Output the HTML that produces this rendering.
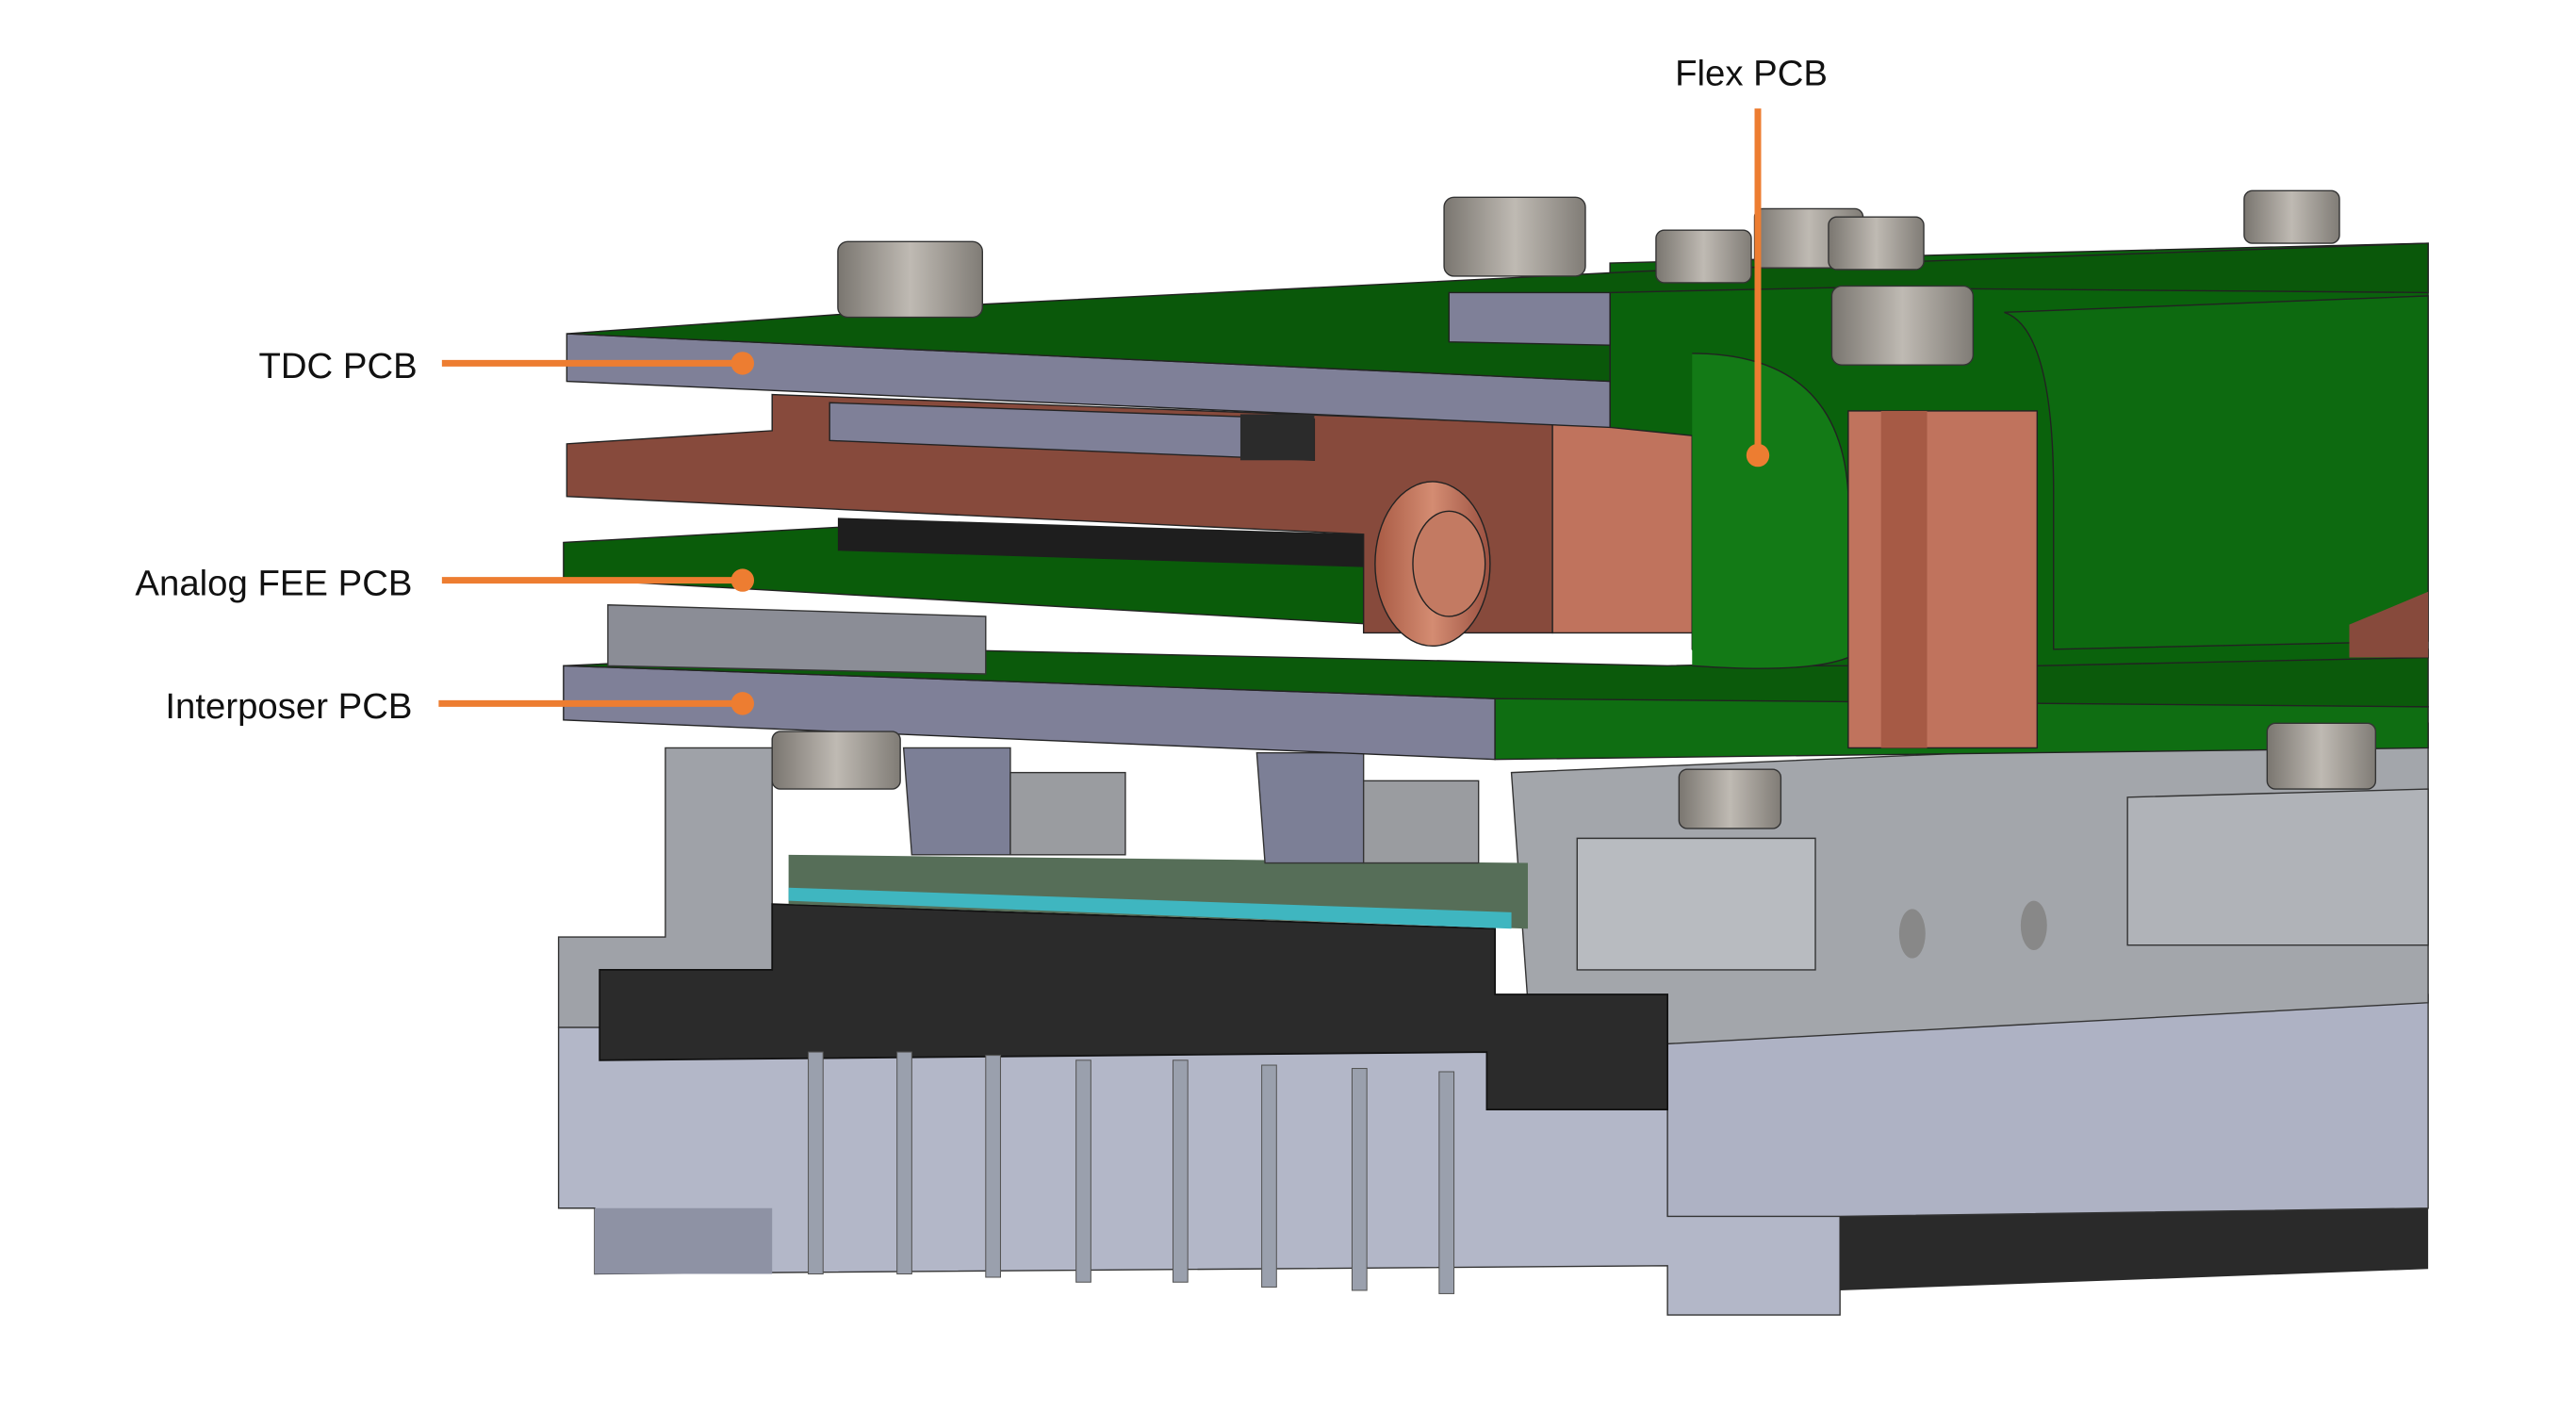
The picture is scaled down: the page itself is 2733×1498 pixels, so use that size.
<!DOCTYPE html>
<html><head><meta charset="utf-8"><style>
html,body{margin:0;padding:0;background:#fff;}
svg{display:block;}
text{font-family:"Liberation Sans",sans-serif;font-size:22px;fill:#111;}
</style></head><body>
<svg width="2733" height="1498" viewBox="0 0 1568 859" preserveAspectRatio="none">
<defs>
<linearGradient id="screw" x1="0" x2="1"><stop offset="0" stop-color="#7a7670"/><stop offset="0.5" stop-color="#bfbab3"/><stop offset="1" stop-color="#807c76"/></linearGradient>
<linearGradient id="cu" x1="0" x2="1"><stop offset="0" stop-color="#a85a44"/><stop offset="0.5" stop-color="#d48c72"/><stop offset="1" stop-color="#9a5040"/></linearGradient>
</defs>
<g>
<polygon points="340,625 1120,625 1120,800 1015,800 1015,770 362,775 362,735 340,735" fill="#b3b7c8" stroke="#333" stroke-width="0.8"/>
<polygon points="362,735 470,735 470,775 362,775" fill="#8e92a4"/>
<polygon points="1120,735 1478,735 1478,772 1120,785" fill="#2a2a2a"/>
<polygon points="1015,625 1478,605 1478,735 1120,740 1015,740" fill="#aeb2c4" stroke="#333" stroke-width="0.8"/>
<polygon points="405,455 470,455 470,625 340,625 340,570 405,570" fill="#9fa2a8" stroke="#333" stroke-width="0.8"/>
<polygon points="920,470 1270,455 1478,440 1478,610 1015,635 930,610" fill="#a3a6ab" stroke="#333" stroke-width="0.8"/>
<polygon points="960,510 1105,510 1105,590 960,590" fill="#b8bbc0" stroke="#333" stroke-width="0.8"/>
<polygon points="1295,485 1478,480 1478,575 1295,575" fill="#b0b3b8" stroke="#333" stroke-width="0.8"/>
<ellipse cx="1164" cy="568" rx="8" ry="15" fill="#888"/>
<ellipse cx="1238" cy="563" rx="8" ry="15" fill="#888"/>
</g>
<g>
<polygon points="365,590 470,590 470,550 910,565 910,605 1015,605 1015,675 905,675 905,640 365,645" fill="#2b2b2b" stroke="#111"/>
<polygon points="480,520 930,525 930,565 480,550" fill="#566e58"/>
<polygon points="480,540 920,555 920,565 480,548" fill="#3fb6c0"/>
</g>
<g fill="#9aa0ad" stroke="#555" stroke-width="0.6">
<rect x="492" y="640" width="9" height="135"/><rect x="546" y="640" width="9" height="135"/>
<rect x="600" y="642" width="9" height="135"/><rect x="655" y="645" width="9" height="135"/>
<rect x="714" y="645" width="9" height="135"/><rect x="768" y="648" width="9" height="135"/>
<rect x="823" y="650" width="9" height="135"/><rect x="876" y="652" width="9" height="135"/>
</g>
<g fill="#7c7f96" stroke="#333" stroke-width="0.8">
<polygon points="550,455 615,455 615,520 555,520"/><polygon points="765,458 830,458 830,525 770,525"/>
<rect x="615" y="470" width="70" height="50" fill="#9a9ca0"/><rect x="830" y="475" width="70" height="50" fill="#9a9ca0"/>
</g>
<g>
<polygon points="343,405 910,425 910,462 343,438" fill="#7f8098" stroke="#222" stroke-width="0.8"/>
<polygon points="343,405 560,395 1015,405 1478,395 1478,430 1270,440 1015,430 910,425" fill="#0b5a0b" stroke="#222" stroke-width="0.8"/>
<polygon points="910,425 1478,430 1478,455 910,462" fill="#0f6e12" stroke="#222" stroke-width="0.8"/>
<polygon points="370,368 600,375 600,410 370,405" fill="#8b8d96" stroke="#333" stroke-width="0.8"/>
</g>
<g>
<polygon points="343,330 560,318 840,330 840,380 343,352" fill="#0a5c0a" stroke="#222" stroke-width="0.8"/>
<polygon points="510,315 830,325 830,345 510,335" fill="#1e1e1e"/>
</g>
<g>
<polygon points="470,240 945,258 945,385 830,385 830,325 345,302 345,270 470,262" fill="#874a3c" stroke="#222" stroke-width="0.8"/>
<polygon points="945,255 1030,255 1030,385 945,385" fill="#c0735d" stroke="#222" stroke-width="0.8"/>
<polygon points="505,245 800,255 800,280 505,268" fill="#7f8098" stroke="#222" stroke-width="0.8"/>
<rect x="755" y="252" width="45" height="28" fill="#2b2b2b"/>
<ellipse cx="872" cy="343" rx="35" ry="50" fill="url(#cu)" stroke="#222" stroke-width="0.8"/>
<ellipse cx="882" cy="343" rx="22" ry="32" fill="#c37a62" stroke="#222" stroke-width="0.8"/>
</g>
<g>
<polygon points="980,160 1478,148 1478,400 1240,405 1130,405 1040,405 1030,395 1030,265 980,260" fill="#0a620c" stroke="#222" stroke-width="0.8"/>
<path d="M1030,215 Q1120,215 1125,300 L1125,400 Q1100,410 1030,405" fill="#137a16" stroke="#222" stroke-width="0.8"/>
<polygon points="1125,250 1240,250 1240,455 1125,455" fill="#c0735d" stroke="#222" stroke-width="0.8"/>
<rect x="1145" y="250" width="28" height="205" fill="#a65a45"/>
<path d="M1220,190 Q1250,200 1250,300 L1250,395 L1478,390 L1478,180 Z" fill="#0d6a10" stroke="#222" stroke-width="0.8"/>
<polygon points="1430,380 1478,360 1478,400 1430,400" fill="#874a3c"/>
</g>
<g>
<polygon points="345,203 980,232 980,260 345,232" fill="#7f8098" stroke="#222" stroke-width="0.8"/>
<polygon points="345,203 600,185 1000,165 1478,148 1478,178 1115,175 980,178 980,232" fill="#0a580a" stroke="#222" stroke-width="0.8"/>
<polygon points="882,178 980,178 980,210 882,208" fill="#7f8098" stroke="#222" stroke-width="0.8"/>
</g>
<g stroke="#333" stroke-width="0.8" fill="url(#screw)">
<rect x="510" y="147" width="88" height="46" rx="6"/>
<rect x="879" y="120" width="86" height="48" rx="6"/>
<rect x="1008" y="140" width="58" height="32" rx="5"/>
<rect x="1068" y="127" width="66" height="36" rx="5"/>
<rect x="1113" y="132" width="58" height="32" rx="5"/>
<rect x="1115" y="174" width="86" height="48" rx="6"/>
<rect x="1366" y="116" width="58" height="32" rx="5"/>
<rect x="470" y="445" width="78" height="35" rx="5"/>
<rect x="1380" y="440" width="66" height="40" rx="5"/>
<rect x="1022" y="468" width="62" height="36" rx="5"/>
</g>
<g>
<text x="1066" y="52" text-anchor="middle">Flex PCB</text>
<line x1="1070" y1="66" x2="1070" y2="277" stroke="#ed7d31" stroke-width="4"/>
<circle cx="1070" cy="277" r="7" fill="#ed7d31"/>
<text x="254" y="230" text-anchor="end">TDC PCB</text>
<line x1="269" y1="221" x2="452" y2="221" stroke="#ed7d31" stroke-width="4"/>
<circle cx="452" cy="221" r="7" fill="#ed7d31"/>
<text x="251" y="362" text-anchor="end">Analog FEE PCB</text>
<line x1="269" y1="353" x2="452" y2="353" stroke="#ed7d31" stroke-width="4"/>
<circle cx="452" cy="353" r="7" fill="#ed7d31"/>
<text x="251" y="437" text-anchor="end">Interposer PCB</text>
<line x1="267" y1="428" x2="452" y2="428" stroke="#ed7d31" stroke-width="4"/>
<circle cx="452" cy="428" r="7" fill="#ed7d31"/>
</g>
</svg>
</body></html>
